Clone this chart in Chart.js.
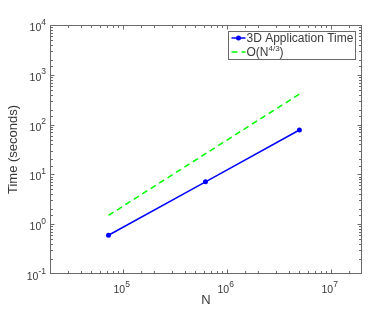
<!DOCTYPE html>
<html>
<head>
<meta charset="utf-8">
<script src="https://cdn.jsdelivr.net/npm/chart.js@4/dist/chart.umd.min.js"></script>
<style>
  html, body { margin: 0; padding: 0; background: #fff; }
</style>
</head>
<body>
<canvas id="chart" width="374" height="312"></canvas>
<script>
// data
const sizesN = [73000, 625000, 5000000];
const appTime = [0.6, 7.1, 78];
const refTime = [1.5, 26, 410];
const seriesLabels = ['3D Application Time', 'O(N^{4/3})'];
const xRange = [2e4, 2e7];
const yRange = [0.1, 1e4];

const FONT = "'Liberation Sans', Arial, Helvetica, sans-serif";
const TEXT = '#3a3a3a';
const EDGE = '#6a6a6a';

function isDecade(v) {
    const l = Math.log10(v);
    return Math.abs(l - Math.round(l)) < 1e-9;
}

// "10" with a raised exponent, like the matlab tick labels
function drawPow(ctx, value, x, y, align) {
    const e = String(Math.round(Math.log10(value)));
    ctx.font = '10.5px ' + FONT;
    const wb = ctx.measureText('10').width;
    ctx.font = '8.5px ' + FONT;
    const we = ctx.measureText(e).width;
    const x0 = align === 'right' ? x - wb - we : x - (wb + we) / 2;
    ctx.textAlign = 'left';
    ctx.textBaseline = 'alphabetic';
    ctx.font = '10.5px ' + FONT;
    ctx.fillText('10', x0, y);
    ctx.font = '8.5px ' + FONT;
    ctx.fillText(e, x0 + wb, y - 6.5);
}

// box with inward ticks on all sides, tick labels and legend
const boxPlugin = {
    id: 'boxTicks',
    afterDraw(chart) {
        const ctx = chart.ctx;
        const a = chart.chartArea;
        const xs = chart.scales.x, ys = chart.scales.y;
        const L = Math.round(a.left) + 0.5, R = Math.round(a.right) - 0.5;
        const T = Math.round(a.top) + 0.5, B = Math.round(a.bottom) - 0.5;
        ctx.save();
        ctx.strokeStyle = EDGE;
        ctx.lineWidth = 1;
        ctx.strokeRect(L, T, R - L, B - T);
        ctx.beginPath();
        xs.ticks.forEach(t => {
            const px = Math.round(xs.getPixelForValue(t.value)) + 0.5;
            if (px < L || px > R) return;
            const len = isDecade(t.value) ? 4 : 2.5;
            ctx.moveTo(px, B); ctx.lineTo(px, B - len);
            ctx.moveTo(px, T); ctx.lineTo(px, T + len);
        });
        ys.ticks.forEach(t => {
            const py = Math.round(ys.getPixelForValue(t.value)) + 0.5;
            if (py < T || py > B) return;
            const len = isDecade(t.value) ? 4 : 2.5;
            ctx.moveTo(L, py); ctx.lineTo(L + len, py);
            ctx.moveTo(R, py); ctx.lineTo(R - len, py);
        });
        ctx.stroke();

        // tick labels at the decades
        ctx.fillStyle = TEXT;
        xs.ticks.filter(t => isDecade(t.value)).forEach(t => {
            drawPow(ctx, t.value, xs.getPixelForValue(t.value) - 1, a.bottom + 19, 'center');
        });
        ys.ticks.filter(t => isDecade(t.value)).forEach(t => {
            drawPow(ctx, t.value, a.left - 4, ys.getPixelForValue(t.value) + 6, 'right');
        });

        // legend
        const bw = 127, bh = 28;
        const bx = Math.round(a.right - 7 - bw) + 0.5, by = Math.round(a.top + 6) + 0.5;
        ctx.fillStyle = '#fff';
        ctx.fillRect(bx, by, bw, bh);
        ctx.strokeStyle = EDGE;
        ctx.strokeRect(bx, by, bw, bh);
        const rows = [by + 6.5, by + 20.5];
        chart.data.datasets.forEach((ds, i) => {
            const cy = rows[i];
            ctx.strokeStyle = ds.borderColor;
            ctx.lineWidth = ds.borderWidth;
            ctx.setLineDash(ds.borderDash || []);
            ctx.beginPath();
            ctx.moveTo(bx + 3, cy); ctx.lineTo(bx + 17, cy);
            ctx.stroke();
            ctx.setLineDash([]);
            if (ds.pointRadius > 0) {
                ctx.fillStyle = ds.borderColor;
                ctx.beginPath();
                ctx.arc(bx + 10, cy, ds.pointRadius, 0, Math.PI * 2);
                ctx.fill();
            }
            ctx.fillStyle = TEXT;
            ctx.textBaseline = 'middle';
            ctx.textAlign = 'left';
            let tx = bx + 18;
            const m = ds.label.match(/^(.*)\^\{(.*)\}(.*)$/);
            if (m) {
                ctx.font = '12px ' + FONT;
                ctx.fillText(m[1], tx, cy + 1);
                tx += ctx.measureText(m[1]).width;
                ctx.font = '8px ' + FONT;
                ctx.fillText(m[2], tx, cy - 3);
                tx += ctx.measureText(m[2]).width;
                ctx.font = '12px ' + FONT;
                ctx.fillText(m[3], tx, cy + 1);
            } else {
                ctx.font = '12px ' + FONT;
                ctx.fillText(ds.label, tx, cy + 1);
            }
        });
        ctx.restore();
    }
};

const ctx = document.getElementById('chart').getContext('2d');
new Chart(ctx, {
    type: 'line',
    data: {
        datasets: [{
            label: seriesLabels[0],
            data: sizesN.map((n, i) => ({x: n, y: appTime[i]})),
            borderColor: '#0000ff',
            backgroundColor: '#0000ff',
            borderWidth: 1.5,
            pointRadius: 2.5,
            pointHoverRadius: 2.5,
            pointBorderWidth: 0,
            tension: 0
        }, {
            label: seriesLabels[1],
            data: sizesN.map((n, i) => ({x: n, y: refTime[i]})),
            borderColor: '#00ff00',
            backgroundColor: '#00ff00',
            borderWidth: 1.5,
            borderDash: [6, 4],
            pointRadius: 0,
            tension: 0
        }]
    },
    options: {
        responsive: false,
        animation: false,
        devicePixelRatio: 1,
        layout: { padding: { top: 25, right: 12, left: 0, bottom: 0 } },
        plugins: { legend: { display: false }, tooltip: { enabled: false } },
        scales: {
            x: {
                type: 'logarithmic',
                min: xRange[0],
                max: xRange[1],
                grid: { display: false },
                border: { display: false },
                afterFit: s => { s.height = 38; },
                ticks: { display: false, autoSkip: false },
                title: {
                    display: true,
                    text: 'N',
                    color: TEXT,
                    font: { family: FONT, size: 13 },
                    padding: { top: 0, bottom: 4 }
                }
            },
            y: {
                type: 'logarithmic',
                min: yRange[0],
                max: yRange[1],
                grid: { display: false },
                border: { display: false },
                afterFit: s => { s.width = 50; },
                ticks: { display: false, autoSkip: false },
                title: {
                    display: true,
                    text: 'Time (seconds)',
                    color: TEXT,
                    font: { family: FONT, size: 13 },
                    padding: { top: 6, bottom: 0 }
                }
            }
        }
    },
    plugins: [boxPlugin]
});
</script>
</body>
</html>
